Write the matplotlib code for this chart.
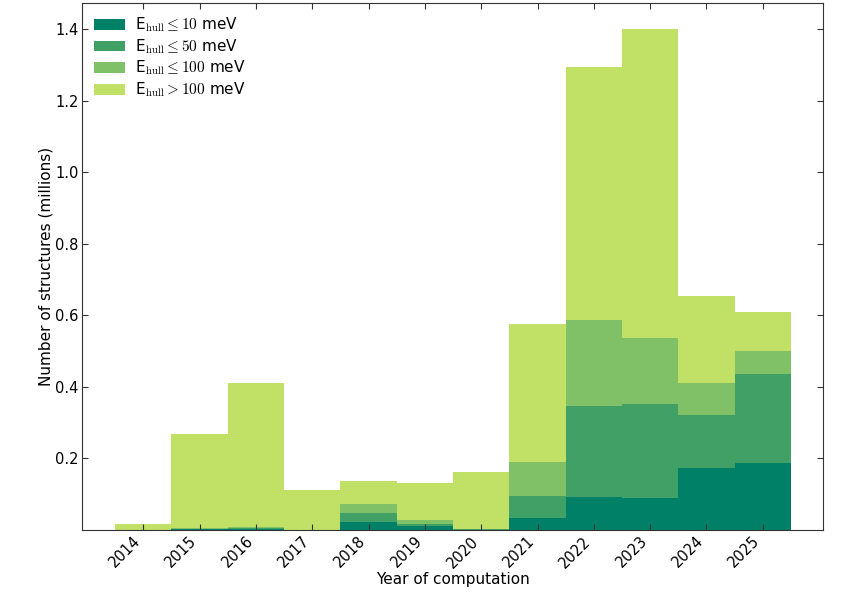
import numpy as np
import matplotlib
matplotlib.use('Agg')
import matplotlib.pyplot as plt

plt.rcParams['mathtext.fontset'] = 'cm'
plt.rcParams['font.size'] = 11

years = np.arange(2014, 2026)

# stacked layers, in millions of structures
le10 = [0.000, 0.002, 0.002, 0.000, 0.0215, 0.011, 0.001, 0.035, 0.093, 0.0885, 0.174, 0.187]
le50 = [0.000, 0.002, 0.003, 0.000, 0.025, 0.007, 0.001, 0.060, 0.254, 0.265, 0.148, 0.248]
le100 = [0.000, 0.001, 0.004, 0.000, 0.026, 0.009, 0.001, 0.095, 0.239, 0.1835, 0.090, 0.0645]
gt100 = [0.016, 0.262, 0.403, 0.112, 0.0645, 0.105, 0.160, 0.386, 0.707, 0.863, 0.243, 0.1095]

labels = [r'E$_{\rm hull} \leq 10$ meV',
          r'E$_{\rm hull} \leq 50$ meV',
          r'E$_{\rm hull} \leq 100$ meV',
          r'E$_{\rm hull} > 100$ meV']

cmap = plt.get_cmap('summer')
colors = [cmap(0.0), cmap(0.25), cmap(0.5), cmap(0.75)]

fig = plt.figure(figsize=(8.6, 5.94), dpi=100)
ax = fig.add_axes([0.0953, 0.1077, 0.8617, 0.8867])

bottom = np.zeros(len(years))
for vals, col, lab in zip([le10, le50, le100, gt100], colors, labels):
    ax.bar(years, vals, width=1.0, bottom=bottom, color=col, linewidth=0, label=lab)
    bottom += np.array(vals)

ax.set_xlim(2012.91, 2026.07)
ax.set_ylim(0, 1.472)
ax.set_xticks(years)
ax.set_xticklabels([str(y) for y in years], rotation=45, ha='right')
ax.set_yticks([0.2, 0.4, 0.6, 0.8, 1.0, 1.2, 1.4])
ax.tick_params(direction='in', top=True, right=True, length=4, color='#333333',
               labelsize=10.5, pad=2.5)
for s in ax.spines.values():
    s.set_color('#333333')

ax.set_xlabel('Year of computation', labelpad=1)
ax.set_ylabel('Number of structures (millions)', labelpad=1)
ax.legend(loc='upper left', frameon=False, handlelength=2.0, handleheight=0.7,
          borderaxespad=0.4, labelspacing=0.2, handletextpad=0.7)

fig.savefig('out.png', dpi=100)
